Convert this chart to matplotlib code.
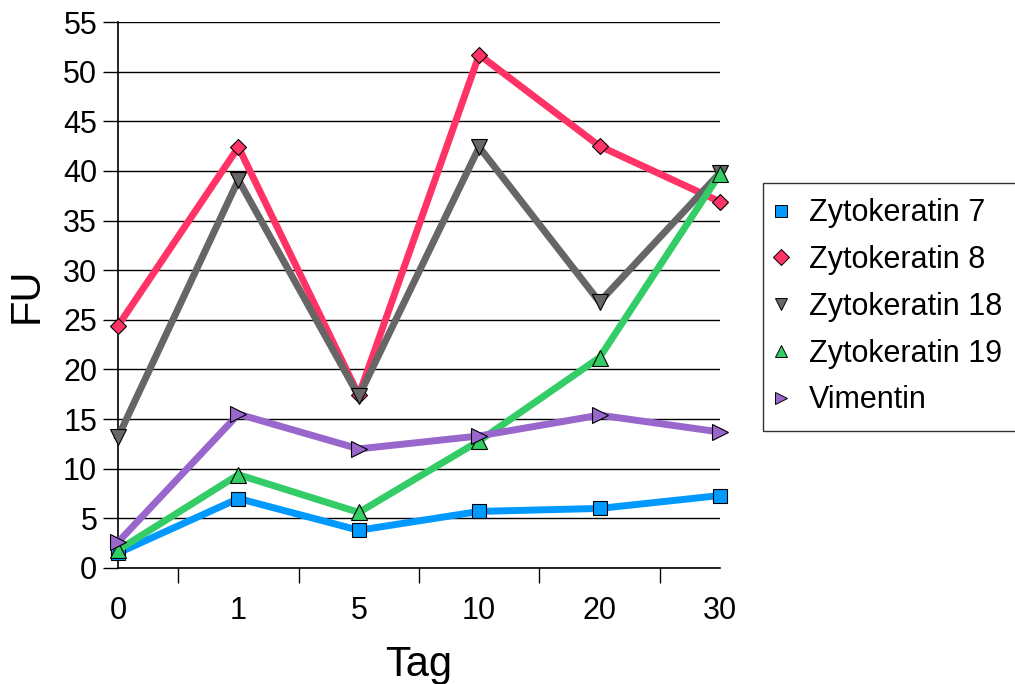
import matplotlib
matplotlib.use("Agg")
import matplotlib.pyplot as plt
from matplotlib.lines import Line2D

plt.rcParams['font.family'] = ['Liberation Sans', 'DejaVu Sans']

# Tage und gemessene FU-Werte
tage = ["0", "1", "5", "10", "20", "30"]
zk7 = [1.5, 7.0, 3.8, 5.7, 6.0, 7.3]
zk8 = [24.4, 42.4, 17.4, 51.7, 42.5, 36.9]
zk18 = [13.2, 39.1, 17.3, 42.4, 26.8, 39.8]
zk19 = [1.8, 9.4, 5.6, 12.8, 21.2, 39.7]
vimentin = [2.6, 15.5, 12.0, 13.3, 15.4, 13.7]

namen = ["Zytokeratin 7", "Zytokeratin 8", "Zytokeratin 18", "Zytokeratin 19", "Vimentin"]
farben = ["#0099FF", "#FF3366", "#666666", "#33CC66", "#9966CC"]
marker = ["s", "D", "v", "^", ">"]
msizes = [10, 8, 11, 11, 11]

fig = plt.figure(figsize=(10.15, 6.84), dpi=100)
ax = fig.add_axes([0.1163, 0.1696, 0.593, 0.7982])

x = list(range(len(tage)))
for werte, name, farbe, m, ms in zip([zk7, zk8, zk18, zk19, vimentin], namen, farben, marker, msizes):
    ax.plot(x, werte, color=farbe, lw=5, marker=m, markersize=ms,
            markerfacecolor=farbe, markeredgecolor="black", markeredgewidth=0.8,
            label=name, clip_on=False, zorder=3)

ax.set_xlim(0, 5)
ax.set_ylim(0, 55)
ax.set_yticks(range(0, 56, 5))
ax.set_xticks(x)
ax.set_xticklabels(tage)
ax.set_xticks([i + 0.5 for i in range(5)], minor=True)
ax.tick_params(axis="x", which="major", length=0, pad=20, labelsize=22)
ax.tick_params(axis="x", which="minor", length=11, width=1, direction="out")
ax.tick_params(axis="y", length=11, width=1, labelsize=22, pad=4)

ax.grid(axis="y", color="black", lw=1, zorder=0)
for s in ["top", "right"]:
    ax.spines[s].set_visible(False)
for s in ["left", "bottom"]:
    ax.spines[s].set_linewidth(1.2)

ax.set_xlabel("Tag", fontsize=30, labelpad=14)
ax.set_ylabel("FU", fontsize=30, labelpad=12)

handles = [Line2D([], [], ls="none", marker=m, markersize=8, markerfacecolor=f,
                  markeredgecolor="black", markeredgewidth=0.7)
           for m, f in zip(marker, farben)]
leg = fig.legend(handles, namen, loc="upper left", bbox_to_anchor=(0.7517, 0.7325),
                 fontsize=22, frameon=True, fancybox=False, edgecolor="black",
                 handlelength=0.2, handletextpad=0.8, labelspacing=0.55,
                 borderpad=0.5, borderaxespad=0)
leg.get_frame().set_linewidth(1)

fig.savefig("out.png", dpi=100)
